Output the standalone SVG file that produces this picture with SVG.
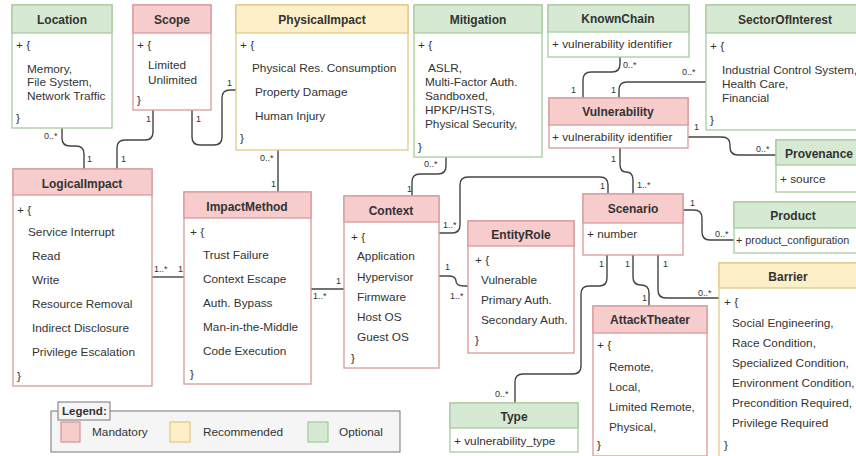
<svg xmlns="http://www.w3.org/2000/svg" width="856" height="456" viewBox="0 0 856 456">
<style>
.box{fill:#fff}
.m{stroke:#d99a9a;stroke-width:1.3}
.r{stroke:#e0c988;stroke-width:1.3}
.o{stroke:#a8cc9e;stroke-width:1.3}
.mh{fill:#f6cccc}
.rh{fill:#fdf0c8}
.oh{fill:#d6e9d3}
text{font-family:"Liberation Sans",Arial,sans-serif;fill:#333}
.t{font-size:12px;font-weight:bold;text-anchor:middle}
.i{font-size:11.8px}
.l{font-size:9px}
.c{fill:none;stroke:#444;stroke-width:1.4}
</style>
<rect width="856" height="456" fill="#fff"/>
<g id="connectors">
<path class="c" d="M62,128 V138 Q62,146 70,146 H76 Q84,146 84,154 V169"/>
<path class="c" d="M153,110 V132 Q153,140 145,140 H125 Q117,140 117,148 V169"/>
<path class="c" d="M192,110 V137 Q192,145 200,145 H214 Q222,145 222,137 V98 Q222,90 230,90 H236"/>
<path class="c" d="M278,150 V192"/>
<path class="c" d="M446,157 V166 Q446,174 438,174 H420 Q412,174 412,182 V196"/>
<path class="c" d="M439,233 H452 Q460,233 460,225 V185 Q460,177 468,177 H600 Q608,177 608,185 V194"/>
<path class="c" d="M439,276 H448 Q456,276 456,281 Q456,286 464,286 H468"/>
<path class="c" d="M311,289 H344"/>
<path class="c" d="M152,277 H184"/>
<path class="c" d="M620,57 V64 Q620,72 612,72 H591 Q583,72 583,80 V98"/>
<path class="c" d="M706,82 H627 Q619,82 619,90 V98"/>
<path class="c" d="M688,137 H722 Q730,137 730,145 V147 Q730,155 738,155 H776"/>
<path class="c" d="M620,148 V164 Q620,172 626,172 Q633,172 633,180 V194"/>
<path class="c" d="M683,210 H694 Q702,210 702,218 V232 Q702,240 710,240 H734"/>
<path class="c" d="M607,255 V278 Q607,286 599,286 H589 Q581,286 581,294 V366 Q581,374 573,374 H523 Q515,374 515,382 V403"/>
<path class="c" d="M633,255 V277 Q633,285 641,285 Q649,285 649,293 V306"/>
<path class="c" d="M658,255 V290 Q658,298 666,298 H719"/>
<text class="l" x="44" y="139">0..*</text>
<text class="l" x="87" y="162">1</text>
<text class="l" x="146" y="122">1</text>
<text class="l" x="121" y="162">1</text>
<text class="l" x="196" y="122">1</text>
<text class="l" x="227" y="86">1</text>
<text class="l" x="260" y="161">0..*</text>
<text class="l" x="271" y="187">1</text>
<text class="l" x="424" y="167">0..*</text>
<text class="l" x="407" y="192">1</text>
<text class="l" x="443" y="228">1..*</text>
<text class="l" x="600" y="189">1</text>
<text class="l" x="445" y="270">1</text>
<text class="l" x="450" y="299">1..*</text>
<text class="l" x="313" y="299">1..*</text>
<text class="l" x="336" y="284">1</text>
<text class="l" x="154" y="272">1..*</text>
<text class="l" x="178" y="272">1</text>
<text class="l" x="623" y="68">0..*</text>
<text class="l" x="571" y="93">1</text>
<text class="l" x="682" y="75">0..*</text>
<text class="l" x="611" y="93">1</text>
<text class="l" x="694" y="130">1</text>
<text class="l" x="756" y="152">0..*</text>
<text class="l" x="611" y="162">1</text>
<text class="l" x="637" y="188">1..*</text>
<text class="l" x="690" y="206">1</text>
<text class="l" x="715" y="237">0..*</text>
<text class="l" x="599" y="267">1</text>
<text class="l" x="495" y="397">0..*</text>
<text class="l" x="625" y="267">1</text>
<text class="l" x="642" y="301">1</text>
<text class="l" x="663" y="267">1</text>
<text class="l" x="698" y="296">0..*</text>
</g>
<g id="Location">
<rect class="box o" x="12" y="5" width="100" height="123"/>
<rect class="oh o" x="12" y="5" width="100" height="28"/>
<text class="t" x="62" y="24">Location</text>
<text class="i" x="16" y="49">+ {</text>
<text class="i" x="27" y="73">Memory,</text>
<text class="i" x="27" y="86">File System,</text>
<text class="i" x="27" y="100">Network Traffic</text>
<text class="i" x="16" y="122">}</text>
</g>
<g id="Scope">
<rect class="box m" x="133" y="5" width="78" height="105"/>
<rect class="mh m" x="133" y="5" width="78" height="28"/>
<text class="t" x="172" y="24">Scope</text>
<text class="i" x="137" y="49">+ {</text>
<text class="i" x="148" y="69">Limited</text>
<text class="i" x="148" y="84">Unlimited</text>
<text class="i" x="137" y="104">}</text>
</g>
<g id="PhysicalImpact">
<rect class="box r" x="236" y="5" width="172" height="145"/>
<rect class="rh r" x="236" y="5" width="172" height="28"/>
<text class="t" x="322" y="24">PhysicalImpact</text>
<text class="i" x="240" y="49">+ {</text>
<text class="i" x="252" y="72">Physical Res. Consumption</text>
<text class="i" x="255" y="96">Property Damage</text>
<text class="i" x="255" y="120">Human Injury</text>
<text class="i" x="240" y="142">}</text>
</g>
<g id="Mitigation">
<rect class="box o" x="414" y="5" width="128" height="152"/>
<rect class="oh o" x="414" y="5" width="128" height="28"/>
<text class="t" x="478" y="24">Mitigation</text>
<text class="i" x="418" y="49">+ {</text>
<text class="i" x="428" y="72">ASLR,</text>
<text class="i" x="425" y="86">Multi-Factor Auth.</text>
<text class="i" x="425" y="100">Sandboxed,</text>
<text class="i" x="425" y="114">HPKP/HSTS,</text>
<text class="i" x="425" y="128">Physical Security,</text>
<text class="i" x="418" y="151">}</text>
</g>
<g id="KnownChain">
<rect class="box o" x="548" y="5" width="141" height="52"/>
<rect class="oh o" x="548" y="5" width="141" height="27"/>
<text class="t" x="618" y="23">KnownChain</text>
<text class="i" x="552" y="48">+ vulnerability identifier</text>
</g>
<g id="SectorOfInterest">
<rect class="box o" x="706" y="5" width="160" height="125"/>
<rect class="oh o" x="706" y="5" width="160" height="28"/>
<text class="t" x="785" y="24">SectorOfInterest</text>
<text class="i" x="710" y="50">+ {</text>
<text class="i" x="722" y="74">Industrial Control System,</text>
<text class="i" x="722" y="88">Health Care,</text>
<text class="i" x="722" y="102">Financial</text>
<text class="i" x="710" y="124">}</text>
</g>
<g id="Vulnerability">
<rect class="box m" x="549" y="98" width="139" height="50"/>
<rect class="mh m" x="549" y="98" width="139" height="27"/>
<text class="t" x="618" y="116">Vulnerability</text>
<text class="i" x="552" y="141">+ vulnerability identifier</text>
</g>
<g id="Provenance">
<rect class="box o" x="776" y="140" width="90" height="52"/>
<rect class="oh o" x="776" y="140" width="90" height="25"/>
<text class="t" x="819" y="158">Provenance</text>
<text class="i" x="780" y="183">+ source</text>
</g>
<g id="Scenario">
<rect class="box m" x="583" y="194" width="100" height="61"/>
<rect class="mh m" x="583" y="194" width="100" height="29"/>
<text class="t" x="633" y="213">Scenario</text>
<text class="i" x="587" y="238">+ number</text>
</g>
<g id="Product">
<rect class="box o" x="734" y="202" width="132" height="51"/>
<rect class="oh o" x="734" y="202" width="132" height="26"/>
<text class="t" x="793" y="220">Product</text>
<text x="736" y="244" style="font-size:10.8px">+ product_configuration</text>
</g>
<g id="Barrier">
<rect class="box r" x="719" y="263" width="147" height="200"/>
<rect class="rh r" x="719" y="263" width="147" height="25"/>
<text class="t" x="788" y="281">Barrier</text>
<text class="i" x="724" y="306">+ {</text>
<text class="i" x="732" y="327">Social Engineering,</text>
<text class="i" x="732" y="347">Race Condition,</text>
<text class="i" x="732" y="367">Specialized Condition,</text>
<text class="i" x="732" y="387">Environment Condition,</text>
<text class="i" x="732" y="407">Precondition Required,</text>
<text class="i" x="732" y="427">Privilege Required</text>
<text class="i" x="724" y="449">}</text>
</g>
<g id="AttackTheater">
<rect class="box m" x="593" y="306" width="114" height="150"/>
<rect class="mh m" x="593" y="306" width="114" height="27"/>
<text class="t" x="650" y="324">AttackTheater</text>
<text class="i" x="597" y="349">+ {</text>
<text class="i" x="609" y="371">Remote,</text>
<text class="i" x="609" y="391">Local,</text>
<text class="i" x="609" y="411">Limited Remote,</text>
<text class="i" x="609" y="431">Physical,</text>
<text class="i" x="597" y="449">}</text>
</g>
<g id="Type">
<rect class="box o" x="450" y="403" width="128" height="49"/>
<rect class="oh o" x="450" y="403" width="128" height="25"/>
<text class="t" x="514" y="421">Type</text>
<text class="i" x="454" y="445">+ vulnerability_type</text>
</g>
<g id="LogicalImpact">
<rect class="box m" x="13" y="169" width="139" height="217"/>
<rect class="mh m" x="13" y="169" width="139" height="26"/>
<text class="t" x="82" y="188">LogicalImpact</text>
<text class="i" x="17" y="214">+ {</text>
<text class="i" x="28" y="236">Service Interrupt</text>
<text class="i" x="32" y="260">Read</text>
<text class="i" x="32" y="284">Write</text>
<text class="i" x="32" y="308">Resource Removal</text>
<text class="i" x="32" y="332">Indirect Disclosure</text>
<text class="i" x="32" y="356">Privilege Escalation</text>
<text class="i" x="17" y="380">}</text>
</g>
<g id="ImpactMethod">
<rect class="box m" x="184" y="192" width="127" height="192"/>
<rect class="mh m" x="184" y="192" width="127" height="26"/>
<text class="t" x="247" y="211">ImpactMethod</text>
<text class="i" x="190" y="236">+ {</text>
<text class="i" x="203" y="259">Trust Failure</text>
<text class="i" x="203" y="283">Context Escape</text>
<text class="i" x="203" y="307">Auth. Bypass</text>
<text class="i" x="203" y="331">Man-in-the-Middle</text>
<text class="i" x="203" y="355">Code Execution</text>
<text class="i" x="190" y="378">}</text>
</g>
<g id="Context">
<rect class="box m" x="344" y="196" width="95" height="172"/>
<rect class="mh m" x="344" y="196" width="95" height="26"/>
<text class="t" x="391" y="215">Context</text>
<text class="i" x="351" y="241">+ {</text>
<text class="i" x="357" y="260">Application</text>
<text class="i" x="357" y="281">Hypervisor</text>
<text class="i" x="357" y="301">Firmware</text>
<text class="i" x="357" y="321">Host OS</text>
<text class="i" x="357" y="341">Guest OS</text>
<text class="i" x="351" y="362">}</text>
</g>
<g id="EntityRole">
<rect class="box m" x="468" y="221" width="106" height="132"/>
<rect class="mh m" x="468" y="221" width="106" height="25"/>
<text class="t" x="521" y="239">EntityRole</text>
<text class="i" x="475" y="264">+ {</text>
<text class="i" x="481" y="284">Vulnerable</text>
<text class="i" x="481" y="304">Primary Auth.</text>
<text class="i" x="481" y="324">Secondary Auth.</text>
<text class="i" x="475" y="344">}</text>
</g>
<g id="Legend">
<rect x="51" y="411" width="349" height="41" fill="#f5f5f5" stroke="#777" stroke-width="1"/>
<rect x="58" y="402" width="52" height="18" fill="#f5f5f5" stroke="#777" stroke-width="1"/>
<text x="62" y="415" style="font-size:11.5px;font-weight:bold">Legend:</text>
<rect x="61" y="422" width="19" height="20" class="mh m"/>
<text class="i" x="92" y="436">Mandatory</text>
<rect x="170" y="422" width="20" height="20" class="rh r"/>
<text class="i" x="203" y="436">Recommended</text>
<rect x="308" y="422" width="20" height="20" class="oh o"/>
<text class="i" x="339" y="436">Optional</text>
</g>
</svg>
